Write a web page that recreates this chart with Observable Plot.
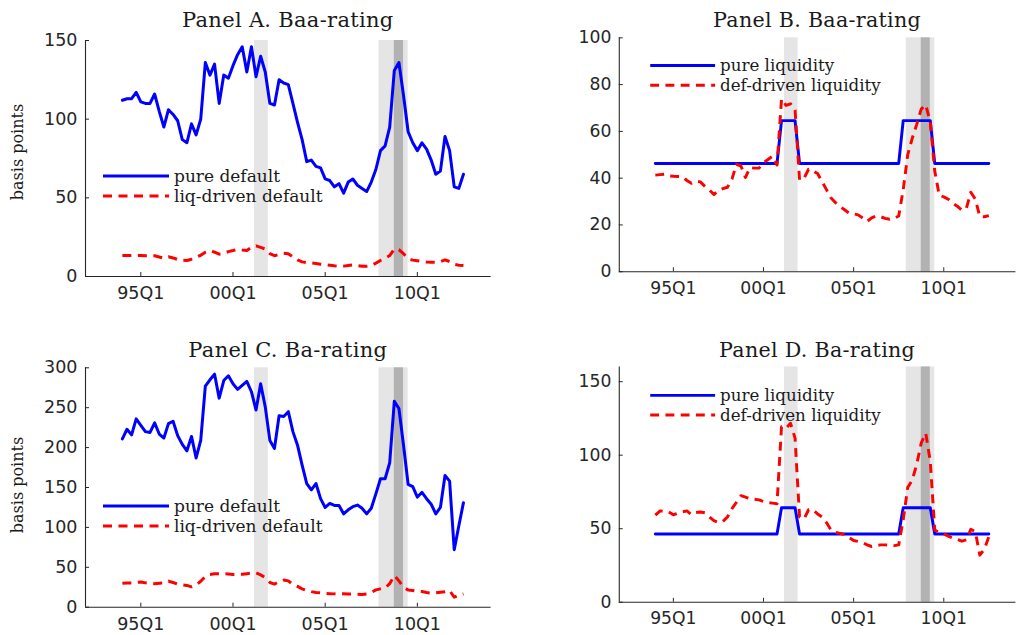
<!DOCTYPE html>
<html><head><meta charset="utf-8">
<script src="https://cdn.jsdelivr.net/npm/d3@7"></script>
<script src="https://cdn.jsdelivr.net/npm/@observablehq/plot@0.6"></script>
<style>
html,body{margin:0;padding:0;background:#fff;overflow:hidden;width:1021px;height:635px}
#wrap{position:relative;width:1021px;height:635px;overflow:hidden}
.panel{position:absolute}
</style></head><body><div id="wrap"></div>
<script>
// quarterly observations 1994Q1 .. 2012Q3
const quarterTime = d3.range(75).map(i => 1994 + i / 4);
const xTickValues = [1995, 2000, 2005, 2010];
const xTickLabels = ["95Q1", "00Q1", "05Q1", "10Q1"];
const lightBands = [[2001.167, 2001.917], [2007.917, 2009.5]];
const darkBands = [[2008.75, 2009.25]];

// Panel A. Baa-rating
const baaPureDefault = [112,113,113,117,111,110,110,116,105,95,106,103,99,87,85,97,90,100,136,128,135,110,128,126,134,141,146,130,146,127,140,130,110,109,125,123,122,110,98,87,73,74,70,69,62,61,57,59,53,60,62,58,56,54,60,68,80,83,95,131,136,115,92,85,80,85,81,74,65,67,89,80,57,56,65];
const baaLiqDefault = [13.4,13.4,13.4,13.3,13.3,13.2,13.2,13.2,12.4,11.6,12.5,11.8,10.8,10.3,10.2,11,12.3,13.5,15.4,16.5,15.5,14.2,14.8,15.8,16.5,17.3,16.8,16.5,18.5,19.5,18.5,17.5,14.5,13.2,14,14.8,14.5,12.5,10.5,9.3,8.8,8.6,8.2,7.8,7.4,7.1,6.8,6.6,6.6,7,7.4,7,6.5,6.5,7,8.5,10.2,11.5,13.3,17.5,17,14.5,11.2,10.4,10,9.6,9.2,9,9,9.5,10.6,9.5,7.8,7.2,7];
// Panel B. Baa-rating
const baaPureLiq = [46.3,46.3,46.3,46.3,46.3,46.3,46.3,46.3,46.3,46.3,46.3,46.3,46.3,46.3,46.3,46.3,46.3,46.3,46.3,46.3,46.3,46.3,46.3,46.3,46.3,46.3,46.3,46.3,64.6,64.6,64.6,64.6,46.3,46.3,46.3,46.3,46.3,46.3,46.3,46.3,46.3,46.3,46.3,46.3,46.3,46.3,46.3,46.3,46.3,46.3,46.3,46.3,46.3,46.3,46.3,64.6,64.6,64.6,64.6,64.6,64.6,64.6,46.3,46.3,46.3,46.3,46.3,46.3,46.3,46.3,46.3,46.3,46.3,46.3,46.3];
const baaDefLiq = [41.3,41.5,41.7,41,40.8,40.7,40.6,39,37.8,38.7,38.4,36.5,35,33,34.7,35.5,36.1,39.6,45.9,45.2,40.3,44.5,44.3,44.3,46.6,48,49.4,45.6,73.9,71.1,71.8,69.1,39.2,40,43.8,43,42,38.5,35,31.5,29.5,27.8,26.5,25,24.7,24.3,23,21.5,23,23.8,23.5,22.8,22.4,22.8,23.8,35,50,57,63,69.5,71.4,64,43,32.6,32,31,29.3,28,26.3,27,34,31,23.5,23.5,24];
// Panel C. Ba-rating
const baPureDefault = [211,223,216,236,228,220,219,231,217,212,230,233,215,204,196,214,187,209,277,285,292,262,284,290,280,273,278,283,270,247,280,251,209,199,240,239,245,220,203,178,155,147,155,136,125,130,127.5,127.5,117,122,126,128,124,117,124,142,161,161,181,258,249,203,154,151,138,144,136,129,117,125,165,158,72,102,131];
const baLiqDefault = [30,30.3,30.3,31,31.5,30.5,29.8,29.5,30,30.3,32.5,31,29,28,27.3,25.5,28,32.5,38.5,41,42,42,42,41.5,41,41,41.2,42,42.9,43.2,40.5,37,31,29,32,34,33,28.5,26,23,21,19.5,18.5,18,17.4,17,16.7,16.7,16.7,16.5,16.7,16.3,16,16.5,18.5,21.7,23,24,29.5,39.7,33,25,21.5,21,20,19.6,18.5,17.6,18,18.8,19.5,20.9,12.5,15,16.7];
// Panel D. Ba-rating
const baPureLiq = [46.4,46.4,46.4,46.4,46.4,46.4,46.4,46.4,46.4,46.4,46.4,46.4,46.4,46.4,46.4,46.4,46.4,46.4,46.4,46.4,46.4,46.4,46.4,46.4,46.4,46.4,46.4,46.4,64.3,64.3,64.3,64.3,46.4,46.4,46.4,46.4,46.4,46.4,46.4,46.4,46.4,46.4,46.4,46.4,46.4,46.4,46.4,46.4,46.4,46.4,46.4,46.4,46.4,46.4,46.4,64.3,64.3,64.3,64.3,64.3,64.3,64.3,46.4,46.4,46.4,46.4,46.4,46.4,46.4,46.4,46.4,46.4,46.4,46.4,46.4];
const baDefLiq = [59.2,62,62,61.4,59.5,60.5,61.5,62.1,59.5,61,61.4,60.8,58,55.5,54.2,55,58,63.6,68,72.5,71.5,70.5,70,69.6,68.5,67.8,67.4,67,119.4,118.3,121.7,111.6,58,56.5,62.9,62.9,60,58,54,49,47.5,46.8,46,44,42,41.3,40.5,39,37.9,38.6,39,39,38.8,38.5,39,56,78,83,93.8,108.3,115,96,49,47.5,46.5,45,43.5,42.7,41.5,42.4,49.6,48,32,36,44.6];

const titles = ["Panel A. Baa-rating", "Panel B. Baa-rating", "Panel C. Ba-rating", "Panel D. Ba-rating"];
const defaultLegend = ["pure default", "liq-driven default"];
const liquidityLegend = ["pure liquidity", "def-driven liquidity"];
const yLabel = "basis points";

const AX = "#262626";
const SERIF = "'DejaVu Serif', 'Liberation Serif', serif";
const SANS = "'DejaVu Sans', 'Liberation Sans', sans-serif";

function rows(vals) { return vals.map((v, i) => ({t: quarterTime[i], v})); }

function panel(cfg) {
  const {left, top, width, height, ml, mr, mt, mb, yDomain, yTicks, title, blue, red, legend, legendX, legendY, titleY, ylab} = cfg;
  const plotW = width - ml - mr, plotH = height - mt - mb;
  const chart = Plot.plot({
    width, height,
    marginLeft: ml, marginRight: mr, marginTop: mt, marginBottom: mb,
    x: {domain: [1992, 2014]},
    y: {domain: yDomain},
    style: {background: "transparent", overflow: "visible", fontFamily: SANS, fontSize: "17.5px", color: AX},
    marks: [
      Plot.rect(lightBands, {x1: d => d[0], x2: d => d[1], fill: "#e5e5e5"}),
      Plot.rect(darkBands, {x1: d => d[0], x2: d => d[1], fill: "#b2b2b2"}),
      Plot.ruleY([yDomain[0]], {stroke: AX, strokeWidth: 1.1}),
      Plot.ruleX([1992], {stroke: AX, strokeWidth: 1.1}),
      Plot.tickX(xTickValues, {x: d => d, insetTop: plotH - 4, stroke: AX}),
      Plot.tickY(yTicks, {y: d => d, insetRight: plotW - 4, stroke: AX}),
      Plot.axisX(xTickValues, {tickSize: 0, tickPadding: 10, tickFormat: d => xTickLabels[xTickValues.indexOf(d)], fill: AX, label: null}),
      Plot.axisY(yTicks, {tickSize: 0, tickPadding: 8, fill: AX, label: null}),
      Plot.line(rows(blue), {x: "t", y: "v", stroke: "#0000ff", strokeWidth: 3, strokeLinejoin: "round"}),
      Plot.line(rows(red), {x: "t", y: "v", stroke: "#ff0000", strokeWidth: 3, strokeDasharray: "9,6.5", strokeLinecap: "butt", strokeLinejoin: "round"})
    ]
  });
  const svg = d3.select(chart);
  svg.append("text").attr("x", ml + plotW / 2).attr("y", titleY)
    .attr("text-anchor", "middle").attr("font-family", SERIF).attr("font-size", "21px")
    .attr("letter-spacing", "0.3px").attr("fill", "#1a1a1a").text(title);
  if (ylab) {
    svg.append("text").attr("transform", `translate(23,${ylab}) rotate(-90)`)
      .attr("text-anchor", "middle").attr("font-family", SERIF).attr("font-size", "16px").attr("fill", "#1a1a1a").text(yLabel);
  }
  const g = svg.append("g");
  [[legend[0], "#0000ff", null], [legend[1], "#ff0000", "9,6.5"]].forEach(([lab, col, dash], k) => {
    const y = legendY + k * 20;
    const ln = g.append("line").attr("x1", legendX).attr("x2", legendX + 66).attr("y1", y).attr("y2", y)
      .attr("stroke", col).attr("stroke-width", 3).attr("stroke-linecap", "butt");
    if (dash) ln.attr("stroke-dasharray", dash);
    g.append("text").attr("x", legendX + 71).attr("y", y).attr("dy", "0.33em").attr("text-anchor", "start")
      .attr("font-family", SERIF).attr("font-size", "17px").attr("fill", "#1a1a1a").text(lab);
  });
  const div = document.createElement("div");
  div.className = "panel";
  div.style.left = left + "px"; div.style.top = top + "px";
  div.appendChild(chart);
  document.getElementById("wrap").appendChild(div);
}

panel({left: 0, top: 0, width: 510, height: 310, ml: 85, mr: 19.4, mt: 40, mb: 34,
  yDomain: [0, 150], yTicks: [0, 50, 100, 150], title: titles[0], blue: baaPureDefault, red: baaLiqDefault,
  legend: defaultLegend, legendX: 103, legendY: 176, titleY: 27, ylab: 152});
panel({left: 510, top: 0, width: 520, height: 310, ml: 110.7, mr: 5.7, mt: 38, mb: 34,
  yDomain: [0, 100], yTicks: [0, 20, 40, 60, 80, 100], title: titles[1], blue: baaPureLiq, red: baaDefLiq,
  legend: liquidityLegend, legendX: 142.7, legendY: 66.7, titleY: 27, ylab: null});
panel({left: 0, top: 320, width: 510, height: 315, ml: 85, mr: 19.4, mt: 47.3, mb: 28.3,
  yDomain: [0, 300], yTicks: [0, 50, 100, 150, 200, 250, 300], title: titles[2], blue: baPureDefault, red: baLiqDefault,
  legend: defaultLegend, legendX: 103, legendY: 186, titleY: 37.3, ylab: 165});
panel({left: 510, top: 320, width: 520, height: 315, ml: 110.7, mr: 5.7, mt: 47.3, mb: 28.3,
  yDomain: [0, 160], yTicks: [0, 50, 100, 150], title: titles[3], blue: baPureLiq, red: baDefLiq,
  legend: liquidityLegend, legendX: 142.7, legendY: 76.7, titleY: 37.3, ylab: null});
</script></body></html>
